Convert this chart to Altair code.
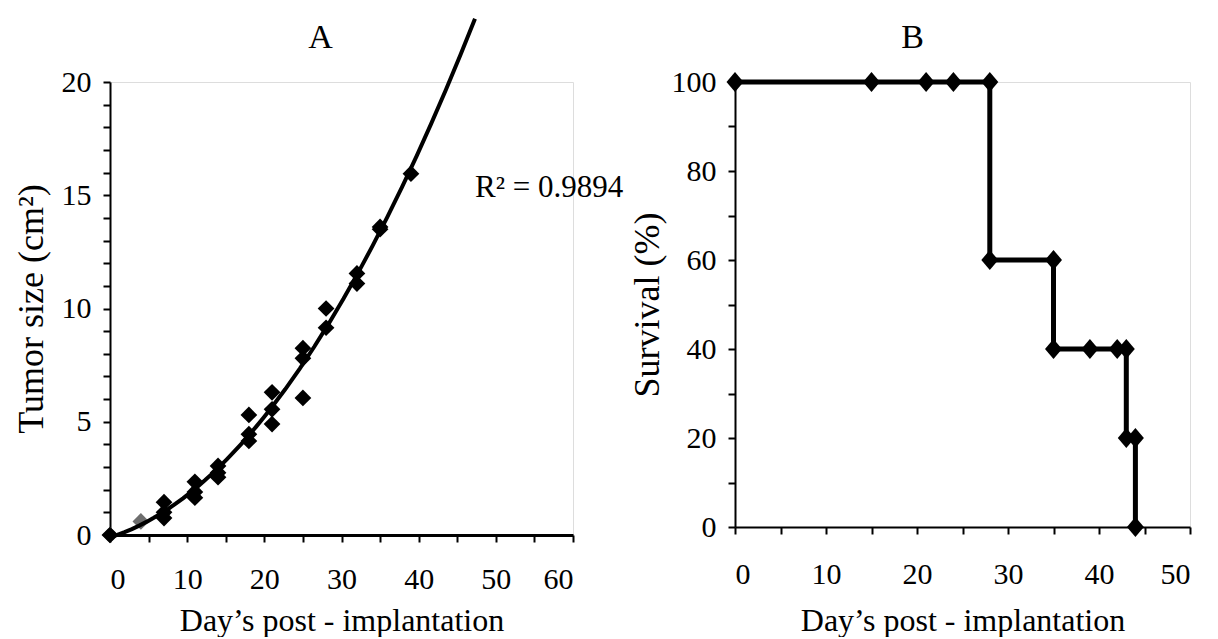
import altair as alt
import pandas as pd

# ---- Panel A: tumor growth ----
tumor_day = [0, 7, 7, 7, 11, 11, 11, 14, 14, 14, 18, 18, 18, 21, 21, 21,
             25, 25, 25, 28, 28, 32, 32, 35, 35, 39]
tumor_size = [0, 1.45, 1.0, 0.75, 2.35, 1.9, 1.65, 3.05, 2.75, 2.55, 5.3, 4.45, 4.15,
              6.3, 5.55, 4.9, 8.25, 7.8, 6.05, 10.0, 9.15, 11.55, 11.1, 13.6, 13.5, 15.95]
gray_day = [0, 4]
gray_size = [0, 0.6]
r2_text = ["R² = 0.9894"]
r2_day = [47.3]
r2_size = [15.3]

# ---- Panel B: survival ----
surv_day = [0, 15, 21, 24, 28, 28, 35, 35, 39, 42, 43, 43, 44, 44]
surv_pct = [100, 100, 100, 100, 100, 60, 60, 40, 40, 40, 40, 20, 20, 0]

FONT = "Liberation Serif"
LABEL_SIZE = 30
TITLE_SIZE_X = 32
TITLE_SIZE_Y = 36

dfA = pd.DataFrame({"day": tumor_day, "size": tumor_size})
dfG = pd.DataFrame({"day": gray_day, "size": gray_size})
dfR = pd.DataFrame({"day": r2_day, "size": r2_size, "label": r2_text})
dfB = pd.DataFrame({"day": surv_day, "pct": surv_pct, "idx": list(range(len(surv_day)))})

xA = alt.X("day:Q", scale=alt.Scale(domain=[0, 60], nice=False),
           axis=alt.Axis(values=list(range(0, 61, 5)),
                         labelExpr="datum.value % 10 == 0 ? datum.label : ''",
                         title="Day\u2019s post - implantation", grid=False,
                         domainWidth=3, domainColor="black", tickColor="black",
                         tickWidth=2, tickSize=7, labelPadding=22,
                         labelFontSize=LABEL_SIZE, labelFont=FONT, labelColor="black",
                         titleFont=FONT, titleFontSize=TITLE_SIZE_X, titleFontWeight="normal",
                         titleColor="black", titlePadding=11))
yA = alt.Y("size:Q", scale=alt.Scale(domain=[0, 20], nice=False),
           axis=alt.Axis(values=list(range(0, 21)),
                         labelExpr="datum.value % 5 == 0 ? datum.label : ''",
                         title="Tumor size  (cm²)", grid=False,
                         domainWidth=2, domainColor="black", tickColor="black",
                         tickWidth=2, tickSize=7, labelPadding=12,
                         labelFontSize=LABEL_SIZE, labelFont=FONT, labelColor="black",
                         titleFont=FONT, titleFontSize=TITLE_SIZE_Y, titleFontWeight="normal",
                         titleColor="black", titlePadding=11))

pointsA = alt.Chart(dfA).mark_point(shape="diamond", filled=True, color="black",
                                     size=280, opacity=1).encode(x=xA, y=yA)
grayA = alt.Chart(dfG).mark_point(shape="diamond", filled=True, color="#6e6e6e",
                                   size=280, opacity=1).encode(x=xA, y=yA)
trend = alt.Chart(dfA).transform_regression(
    "day", "size", method="poly", order=2, extent=[0, 47.3]
).mark_line(color="black", strokeWidth=4).encode(x=xA, y=yA)
r2 = alt.Chart(dfR).mark_text(align="left", baseline="middle", font=FONT,
                              fontSize=31, color="black").encode(x=xA, y=yA, text="label:N")

panelA = alt.layer(grayA, pointsA, trend, r2).properties(
    width=463, height=453,
    title=alt.TitleParams("A", font=FONT, fontSize=34, fontWeight="normal", color="black",
                          anchor="middle", frame="group", dx=-21, offset=-44)
)

xB = alt.X("day:Q", scale=alt.Scale(domain=[0, 50], nice=False),
           axis=alt.Axis(values=list(range(0, 51, 5)),
                         labelExpr="datum.value % 10 == 0 ? datum.label : ''",
                         title="Day\u2019s post - implantation", grid=False,
                         domainWidth=2, domainColor="black", tickColor="black",
                         tickWidth=2, tickSize=7, labelPadding=25,
                         labelFontSize=LABEL_SIZE, labelFont=FONT, labelColor="black",
                         titleFont=FONT, titleFontSize=TITLE_SIZE_X, titleFontWeight="normal",
                         titleColor="black", titlePadding=16))
yB = alt.Y("pct:Q", scale=alt.Scale(domain=[0, 100], nice=False),
           axis=alt.Axis(values=list(range(0, 101, 10)),
                         labelExpr="datum.value % 20 == 0 ? datum.label : ''",
                         title="Survival  (%)", grid=False,
                         domainWidth=2, domainColor="black", tickColor="black",
                         tickWidth=2, tickSize=7, labelPadding=12,
                         labelFontSize=LABEL_SIZE, labelFont=FONT, labelColor="black",
                         titleFont=FONT, titleFontSize=TITLE_SIZE_Y, titleFontWeight="normal",
                         titleColor="black", titlePadding=5))

lineB = alt.Chart(dfB).mark_line(color="black", strokeWidth=5).encode(
    x=xB, y=yB, order="idx:Q")
pointsB = alt.Chart(dfB).mark_point(shape="M0,-1L0.85,0L0,1L-0.85,0Z", filled=True,
                                     color="black", size=400, opacity=1).encode(x=xB, y=yB)

panelB = alt.layer(lineB, pointsB).properties(
    width=455, height=445,
    title=alt.TitleParams("B", font=FONT, fontSize=34, fontWeight="normal", color="black",
                          anchor="middle", frame="group", dx=-50, offset=12)
)

chart = alt.hconcat(panelA, panelB, spacing=4).properties(
    padding={"left": 4, "top": 2, "right": 5, "bottom": 0}
).configure_view(stroke=None).configure(background="white")

chart.save("out.html", embed_options={"renderer": "svg", "actions": False})
